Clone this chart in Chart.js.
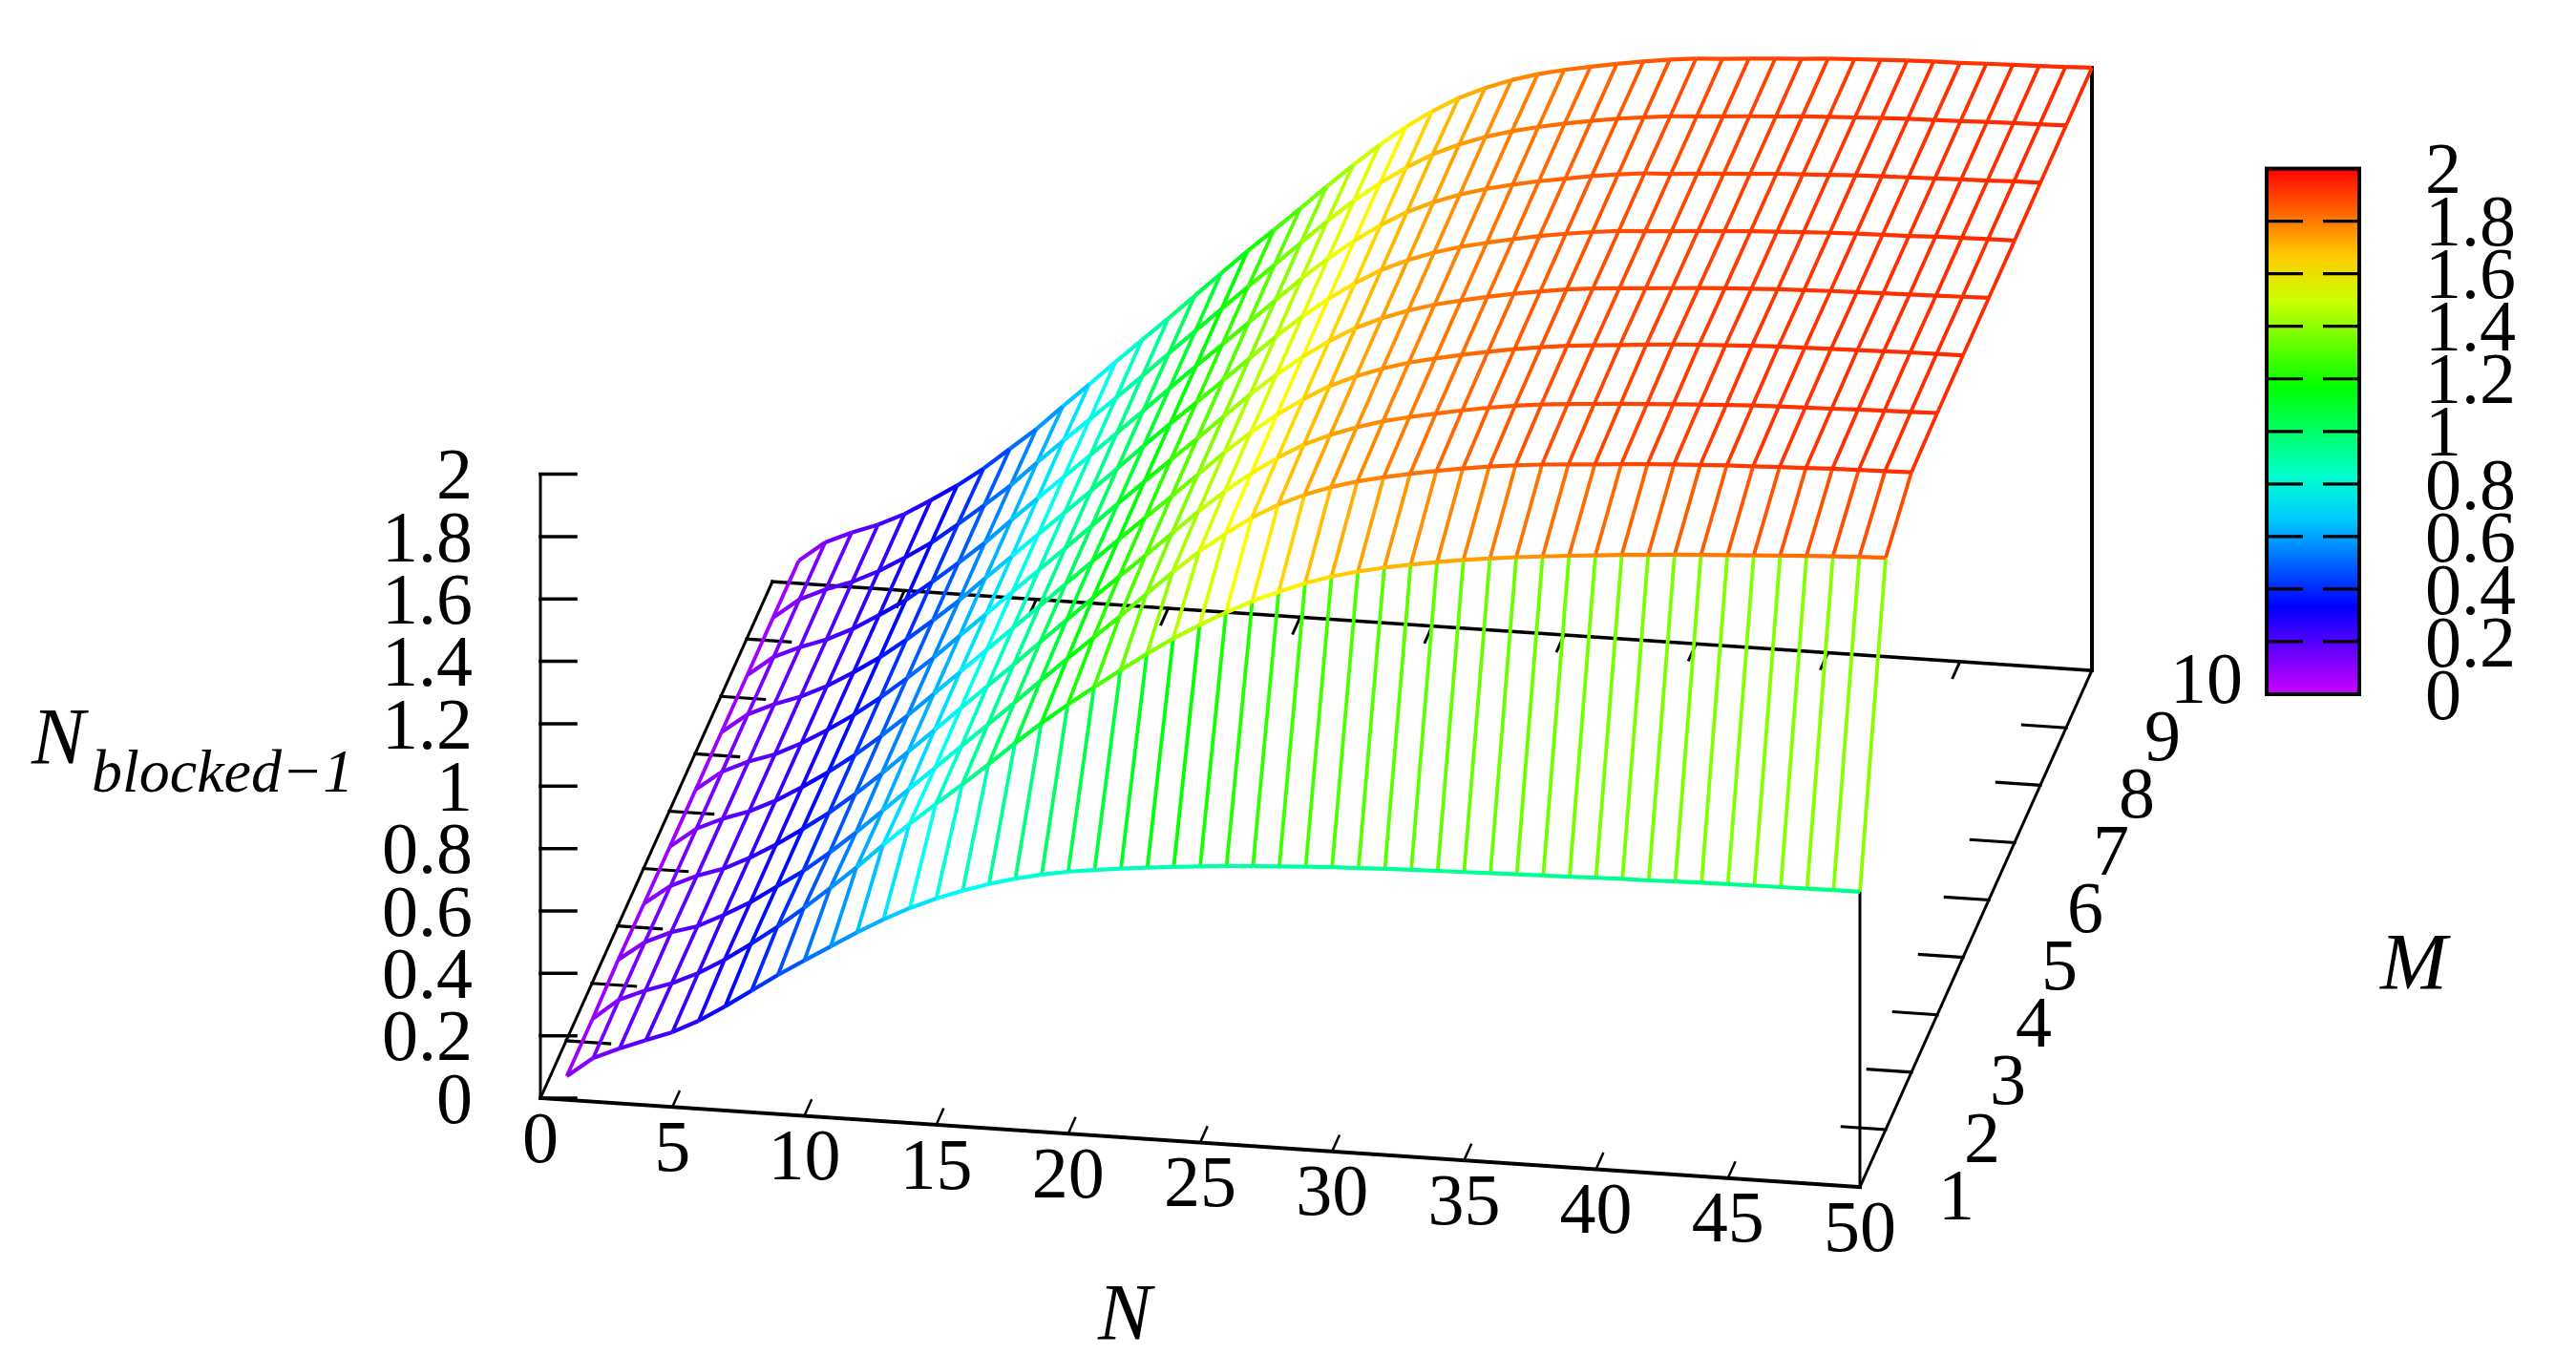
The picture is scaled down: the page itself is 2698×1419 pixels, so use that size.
<!DOCTYPE html>
<html>
<head>
<meta charset="utf-8">
<title>N blocked-1 surface</title>
<script src="https://cdn.jsdelivr.net/npm/chart.js@4"></script>
<style>
  html, body { margin: 0; padding: 0; background: #fff; }
  canvas { display: block; }
</style>
</head>
<body>
<canvas id="myChart" width="2698" height="1419"></canvas>
<script>
// Grid of the surface
const nValues = [1,2,3,4,5,6,7,8,9,10,11,12,13,14,15,16,17,18,19,20,21,22,23,24,25,26,27,28,29,30,31,32,33,34,35,36,37,38,39,40,41,42,43,44,45,46,47,48,49,50];
const mValues = [1,2,3,4,5,6,7,8,9,10];

// Surface height per M row, one value per N
const m1 = [0.076,0.14,0.176,0.209,0.24,0.282,0.334,0.39,0.446,0.498,0.549,0.6,0.647,0.689,0.725,0.756,0.783,0.806,0.825,0.84,0.851,0.861,0.87,0.878,0.885,0.892,0.897,0.902,0.907,0.911,0.914,0.917,0.92,0.922,0.924,0.926,0.928,0.93,0.932,0.934,0.936,0.937,0.939,0.941,0.942,0.943,0.944,0.945,0.946,0.946];
const m2 = [0.076,0.143,0.178,0.207,0.245,0.294,0.35,0.41,0.476,0.546,0.618,0.695,0.768,0.838,0.906,0.977,1.05,1.12,1.185,1.247,1.307,1.365,1.42,1.469,1.515,1.557,1.593,1.626,1.653,1.675,1.693,1.708,1.722,1.735,1.745,1.755,1.763,1.771,1.778,1.785,1.791,1.797,1.802,1.807,1.812,1.817,1.822,1.826,1.83,1.833];
const m3 = [0.082,0.143,0.181,0.206,0.248,0.294,0.35,0.405,0.47,0.54,0.615,0.69,0.765,0.84,0.915,0.99,1.067,1.142,1.216,1.29,1.367,1.443,1.514,1.578,1.635,1.682,1.72,1.75,1.774,1.793,1.81,1.825,1.838,1.85,1.86,1.868,1.874,1.88,1.886,1.892,1.897,1.901,1.905,1.908,1.911,1.914,1.917,1.919,1.921,1.923];
const m4 = [0.078,0.14,0.178,0.206,0.247,0.295,0.35,0.408,0.474,0.545,0.621,0.696,0.772,0.848,0.923,1.0,1.077,1.153,1.228,1.302,1.378,1.454,1.524,1.587,1.643,1.691,1.728,1.758,1.783,1.802,1.819,1.835,1.849,1.861,1.871,1.878,1.884,1.89,1.895,1.9,1.905,1.909,1.913,1.916,1.918,1.92,1.923,1.925,1.927,1.929];
const m5 = [0.076,0.139,0.177,0.206,0.246,0.295,0.349,0.409,0.476,0.547,0.623,0.699,0.775,0.851,0.926,1.004,1.081,1.157,1.232,1.306,1.382,1.458,1.528,1.591,1.647,1.695,1.732,1.762,1.787,1.806,1.823,1.839,1.853,1.865,1.875,1.882,1.889,1.896,1.902,1.907,1.911,1.915,1.918,1.92,1.922,1.924,1.926,1.928,1.929,1.93];
const m6 = [0.075,0.138,0.176,0.205,0.246,0.295,0.349,0.41,0.477,0.548,0.625,0.7,0.777,0.852,0.928,1.005,1.083,1.159,1.234,1.308,1.384,1.46,1.53,1.593,1.649,1.697,1.734,1.764,1.789,1.808,1.825,1.841,1.854,1.866,1.875,1.881,1.887,1.893,1.899,1.904,1.908,1.912,1.915,1.918,1.92,1.922,1.924,1.926,1.928,1.93];
const m7 = [0.075,0.138,0.176,0.206,0.246,0.295,0.349,0.411,0.478,0.548,0.626,0.701,0.777,0.853,0.928,1.006,1.084,1.16,1.235,1.31,1.386,1.462,1.532,1.595,1.651,1.699,1.736,1.766,1.79,1.809,1.826,1.842,1.855,1.866,1.875,1.88,1.886,1.892,1.897,1.903,1.907,1.911,1.915,1.918,1.92,1.922,1.925,1.927,1.929,1.93];
const m8 = [0.074,0.138,0.175,0.205,0.245,0.295,0.348,0.412,0.479,0.549,0.627,0.703,0.778,0.853,0.929,1.006,1.084,1.161,1.236,1.312,1.388,1.464,1.534,1.597,1.653,1.701,1.738,1.768,1.792,1.811,1.828,1.842,1.856,1.867,1.876,1.88,1.886,1.892,1.897,1.903,1.907,1.911,1.915,1.918,1.92,1.922,1.925,1.927,1.93,1.931];
const m9 = [0.074,0.138,0.176,0.206,0.246,0.295,0.349,0.413,0.48,0.549,0.628,0.704,0.778,0.853,0.929,1.007,1.084,1.161,1.237,1.313,1.389,1.465,1.535,1.598,1.654,1.702,1.739,1.769,1.793,1.812,1.829,1.843,1.856,1.866,1.875,1.88,1.886,1.892,1.897,1.903,1.907,1.911,1.915,1.918,1.92,1.922,1.925,1.927,1.929,1.931];
const m10 = [0.073,0.137,0.174,0.205,0.245,0.295,0.348,0.408,0.477,0.546,0.624,0.7,0.778,0.854,0.929,1.007,1.085,1.162,1.235,1.31,1.386,1.46,1.53,1.594,1.65,1.698,1.736,1.767,1.792,1.811,1.827,1.842,1.855,1.867,1.876,1.881,1.887,1.893,1.898,1.904,1.908,1.912,1.915,1.918,1.919,1.922,1.924,1.926,1.929,1.932];
const surface = [m1, m2, m3, m4, m5, m6, m7, m8, m9, m10];

// Tick labels
const zTicks = ['0','0.2','0.4','0.6','0.8','1','1.2','1.4','1.6','1.8','2'];
const nTicks = [0,5,10,15,20,25,30,35,40,45,50];
const mTicks = [1,2,3,4,5,6,7,8,9,10];
const barTicks = ['0','0.2','0.4','0.6','0.8','1','1.2','1.4','1.6','1.8','2'];

// Oblique view of the box, in canvas pixels
const ORIGIN = { x: 566, y: 1150 };
const N_STEP = { x: 27.64, y: 1.86 };
const M_STEP = { x: 27, y: -60.1 };
const Z_STEP = 326.7;

// Colour bar box
const BAR = { left: 2374, right: 2471, top: 176.6, bottom: 727 };

const FONT = '"Liberation Serif", "Times New Roman", serif';
const FONT_SIZE = 76;

function project(n, m, z) {
  return {
    x: ORIGIN.x + N_STEP.x * n + M_STEP.x * (m - 1),
    y: ORIGIN.y + N_STEP.y * n + M_STEP.y * (m - 1) - Z_STEP * z,
    z: z
  };
}

// Rainbow map: red at 2, down through the hues to purple at 0
function valueColor(v) {
  const hue = 288 * (1 - Math.min(Math.max(v, 0), 2) / 2);
  return `hsl(${hue}, 100%, 50%)`;
}

function meshLine(points, width) {
  return {
    data: points,
    showLine: true,
    pointRadius: 0,
    borderWidth: width,
    tension: 0,
    borderColor: '#000',
    segment: {
      borderColor: ctx => valueColor((ctx.p0.raw.z + ctx.p1.raw.z) / 2)
    }
  };
}

function blackLine(a, b, width) {
  return {
    data: [a, b],
    showLine: true,
    pointRadius: 0,
    borderWidth: width,
    borderColor: '#000',
    borderCapStyle: 'square'
  };
}

function buildDatasets() {
  const datasets = [];

  // Earlier datasets end up on top: rows, then columns, then the box
  surface.forEach((row, j) => {
    datasets.push(meshLine(row.map((z, i) => project(nValues[i], mValues[j], z)), 4.2));
  });
  nValues.forEach((n, i) => {
    datasets.push(meshLine(surface.map((row, j) => project(n, mValues[j], row[i])), 3.8));
  });

  const nMin = nTicks[0];
  const nMax = nTicks[nTicks.length - 1];
  const mMin = mTicks[0];
  const mMax = mTicks[mTicks.length - 1];
  const zMax = zTicks.length - 1;

  datasets.push(blackLine(project(nMin, mMin, 0), project(nMax, mMin, 0), 4));
  datasets.push(blackLine(project(nMax, mMin, 0), project(nMax, mMax, 0), 3));
  datasets.push(blackLine(project(nMax, mMax, 0), project(nMin, mMax, 0), 3.6));
  datasets.push(blackLine(project(nMin, mMax, 0), project(nMin, mMin, 0), 3));
  datasets.push(blackLine(project(nMin, mMin, 0), project(nMin, mMin, zMax * 0.2), 3));
  datasets.push(blackLine(project(nMax, mMax, 0), project(nMax, mMax, m10[m10.length - 1]), 4));
  datasets.push(blackLine(project(nMax, mMin, 0), project(nMax, mMin, m1[m1.length - 1]), 3));

  zTicks.forEach((label, i) => {
    const p = project(nMin, mMin, i * 0.2);
    datasets.push(blackLine(p, { x: p.x + 37, y: p.y }, 3.5));
  });
  nTicks.slice(1, -1).forEach(n => {
    datasets.push(blackLine(project(n, mMin, 0), project(n, mMin + 0.27, 0), 2.5));
    datasets.push(blackLine(project(n, mMax, 0), project(n, mMax - 0.28, 0), 3));
  });
  mTicks.slice(1, -1).forEach(m => {
    datasets.push(blackLine(project(nMin, m, 0), project(nMin + 1.65, m, 0), 3.2));
    datasets.push(blackLine(project(nMax, m, 0), project(nMax - 1.65, m, 0), 3.2));
  });

  return datasets;
}

// Tick text, axis titles and the colour bar are not datasets
const labelsPlugin = {
  id: 'labels',
  afterDraw(chart) {
    const c = chart.ctx;
    const digitMid = FONT_SIZE * 0.338;
    c.save();
    c.fillStyle = '#000';
    c.font = `${FONT_SIZE}px ${FONT}`;

    c.textAlign = 'right';
    zTicks.forEach((label, i) => {
      c.fillText(label, 495, project(0, 1, i * 0.2).y + digitMid);
    });

    c.textAlign = 'center';
    nTicks.forEach(n => {
      const p = project(n, 1, 0);
      c.fillText(String(n), p.x, p.y + 41 + digitMid);
    });

    c.textAlign = 'left';
    mTicks.forEach(m => {
      const p = project(50, m, 0);
      c.fillText(String(m), p.x + 82, p.y + 8 + digitMid);
    });

    // colour bar
    const barH = BAR.bottom - BAR.top;
    const grad = c.createLinearGradient(0, BAR.bottom, 0, BAR.top);
    for (let s = 0; s <= 12; s++) {
      grad.addColorStop(s / 12, valueColor(s / 6));
    }
    c.fillStyle = grad;
    c.fillRect(BAR.left, BAR.top, BAR.right - BAR.left, barH);
    c.strokeStyle = '#000';
    c.lineWidth = 4;
    c.strokeRect(BAR.left, BAR.top, BAR.right - BAR.left, barH);

    c.lineWidth = 3.2;
    c.fillStyle = '#000';
    barTicks.forEach((label, i) => {
      const y = BAR.bottom - (i / (barTicks.length - 1)) * barH;
      if (i > 0 && i < barTicks.length - 1) {
        c.beginPath();
        c.moveTo(BAR.left, y);
        c.lineTo(BAR.left + 38, y);
        c.moveTo(BAR.right - 38, y);
        c.lineTo(BAR.right, y);
        c.stroke();
      }
      c.fillText(label, 2540, y + digitMid);
    });

    // axis titles
    c.font = `italic 84px ${FONT}`;
    c.textAlign = 'center';
    c.fillText('N', 1178, 1403);
    c.fillText('M', 2528, 1036);
    c.textAlign = 'left';
    c.fillText('N', 33, 800);
    c.font = `italic 64px ${FONT}`;
    c.fillText('blocked\u22121', 96, 829);
    c.restore();
  }
};

const myChart = new Chart(document.getElementById('myChart').getContext('2d'), {
  type: 'scatter',
  data: { datasets: buildDatasets() },
  options: {
    responsive: false,
    animation: false,
    layout: { padding: 0 },
    plugins: {
      legend: { display: false },
      tooltip: { enabled: false },
      title: { display: false }
    },
    scales: {
      x: { type: 'linear', min: 0, max: 2698, display: false },
      y: { type: 'linear', min: 0, max: 1419, reverse: true, display: false }
    }
  },
  plugins: [labelsPlugin]
});
</script>
</body>
</html>
